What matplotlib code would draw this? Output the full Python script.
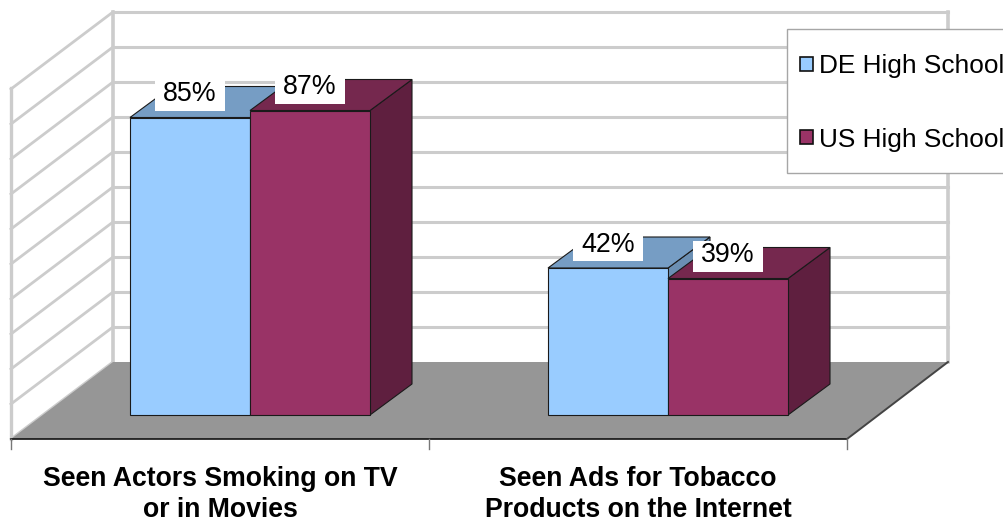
import matplotlib
matplotlib.use('Agg')
import matplotlib.pyplot as plt
from matplotlib.patches import Polygon, Rectangle
from matplotlib.transforms import Affine2D

plt.rcParams['font.family'] = ['Liberation Sans', 'DejaVu Sans']

# Data
categories = ['Seen Actors Smoking on TV\nor in Movies',
              'Seen Ads for Tobacco\nProducts on the Internet']
series_names = ['DE High School', 'US High School']
de_values = [85, 42]
us_values = [87, 39]
tick_steps = list(range(0, 101, 10))

W, H = 1004, 523
PX_PER_CAT = 418.0   # pixels between group centres
PX_PER_PCT = 3.5     # pixels per percent
GROUP0_X = 250.0
BAR_BASE_Y = 415.0
BAR_W = 120 / PX_PER_CAT
DEPTH_X = 42 / PX_PER_CAT
DEPTH_Y = 31 / PX_PER_PCT

colors = {'DE': ('#99CCFF', '#769DC4', '#6B8FB3'),
          'US': ('#993366', '#75284E', '#5F1F3F')}

fig = plt.figure(figsize=(W / 100, H / 100), dpi=100)
fig.patch.set_facecolor('white')
ax = fig.add_axes([0, 0, 1, 1])
ax.set_xlim(-GROUP0_X / PX_PER_CAT, (W - GROUP0_X) / PX_PER_CAT)
ax.set_ylim((BAR_BASE_Y - H) / PX_PER_PCT, BAR_BASE_Y / PX_PER_PCT)
ax.axis('off')

# chrome is placed in image pixels, y pointing down
pix = Affine2D().scale(1, -1).translate(0, H)

GRID = '#CCCCCC'

# floor
ax.add_patch(Polygon([(11, 439), (847, 439), (948, 362), (113, 362)], closed=True,
                     facecolor='#969696', edgecolor='none', transform=pix, zorder=1))

# walls and gridlines
for step in tick_steps:
    off = step * PX_PER_PCT
    ax.plot([11, 113], [439 - off, 362 - off], color=GRID, lw=2, transform=pix, zorder=0.5)
    if step > 0:
        ax.plot([113, 948], [362 - off, 362 - off], color=GRID, lw=2.2, transform=pix, zorder=0.5)
ax.plot([11, 11], [88, 439], color=GRID, lw=2.4, transform=pix, zorder=0.6)
ax.plot([113, 113], [12, 362], color=GRID, lw=2.6, transform=pix, zorder=0.6)
ax.plot([948, 948], [12, 362], color=GRID, lw=2.6, transform=pix, zorder=0.6)

# front and right floor edges, ticks
ax.plot([11, 847], [439, 439], color='#111111', lw=1.2, transform=pix, zorder=2)
ax.plot([847, 948], [439, 362], color='#444444', lw=1.4, transform=pix, zorder=2)
for tx in [11, 429, 847]:
    ax.plot([tx, tx], [439, 449], color='#777777', lw=1, transform=pix, zorder=2)


def draw_bars(xpos, vals, key):
    front, top, side = colors[key]
    edge = '#1A1A1A'
    for x, v in zip(xpos, vals):
        x0, x1 = x - BAR_W / 2, x + BAR_W / 2
        ax.add_patch(Polygon([(x1, 0), (x1 + DEPTH_X, DEPTH_Y), (x1 + DEPTH_X, v + DEPTH_Y), (x1, v)],
                             closed=True, facecolor=side, edgecolor=edge, lw=0.8, zorder=3))
        ax.add_patch(Polygon([(x0, v), (x1, v), (x1 + DEPTH_X, v + DEPTH_Y), (x0 + DEPTH_X, v + DEPTH_Y)],
                             closed=True, facecolor=top, edgecolor=edge, lw=0.8, zorder=3))
    ax.bar(xpos, vals, width=BAR_W, color=front, edgecolor=edge, lw=0.8, zorder=3)


x_de = [i - BAR_W / 2 for i in range(len(categories))]
x_us = [i + BAR_W / 2 for i in range(len(categories))]
draw_bars(x_de, de_values, 'DE')
draw_bars(x_us, us_values, 'US')

# value labels on white boxes
box_w, box_h = 70 / PX_PER_CAT, 31 / PX_PER_PCT
for xs, vals in [(x_de, de_values), (x_us, us_values)]:
    for x, v in zip(xs, vals):
        yc = v + 22.5 / PX_PER_PCT
        ax.add_patch(Rectangle((x - box_w / 2, yc - box_h / 2), box_w, box_h,
                               facecolor='white', edgecolor='none', zorder=4))
        ax.text(x, v + 23.5 / PX_PER_PCT, f'{v}%', ha='center', va='center',
                fontsize=19.3, color='black', zorder=5)

# category labels
for i, name in enumerate(categories):
    ax.text(i - 30 / PX_PER_CAT, (BAR_BASE_Y - 494.5) / PX_PER_PCT, name, ha='center', va='center',
            fontsize=19.2, fontweight='bold', color='black', linespacing=1.25, zorder=5)

# legend box, runs off the right edge
ax.add_patch(Rectangle((787, 29), 240, 144, facecolor='white', edgecolor='#A6A6A6', lw=1,
                       transform=pix, zorder=6, clip_on=True))
for name, key, ly in zip(series_names, ['DE', 'US'], [64, 137]):
    ax.add_patch(Rectangle((800, ly - 7), 13, 14, facecolor=colors[key][0], edgecolor='#111111',
                           lw=1.2, transform=pix, zorder=7))
    ax.text(819, ly + 2.5, name, ha='left', va='center', fontsize=18.9, color='black',
            transform=pix, zorder=7, clip_on=True)

plt.savefig('out.png', dpi=100, facecolor='white')
plt.close()
